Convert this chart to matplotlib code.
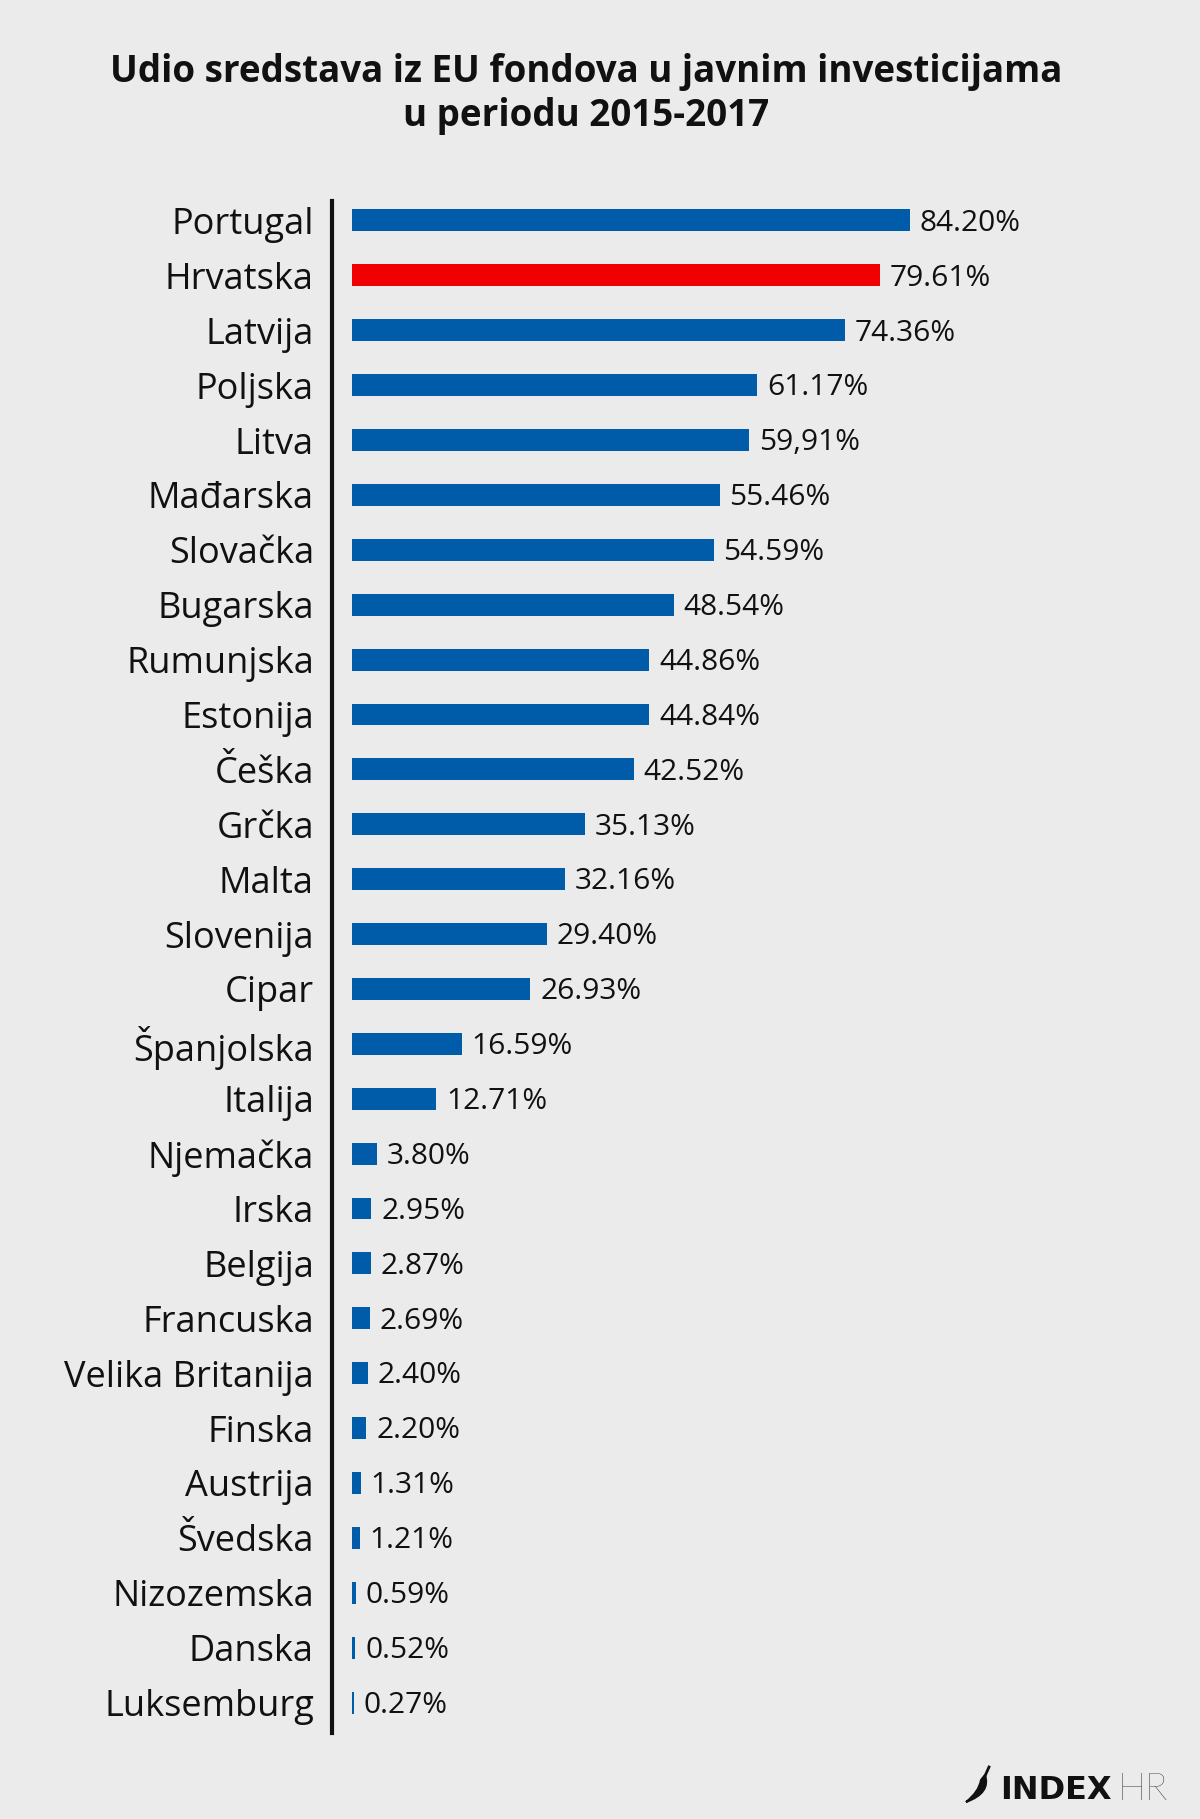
import matplotlib
matplotlib.use("Agg")
import matplotlib.pyplot as plt
from matplotlib.path import Path
from matplotlib.patches import PathPatch
import numpy as np

countries = ["Portugal", "Hrvatska", "Latvija", "Poljska", "Litva", "Mađarska",
             "Slovačka", "Bugarska", "Rumunjska", "Estonija", "Češka", "Grčka",
             "Malta", "Slovenija", "Cipar", "Španjolska", "Italija", "Njemačka",
             "Irska", "Belgija", "Francuska", "Velika Britanija", "Finska",
             "Austrija", "Švedska", "Nizozemska", "Danska", "Luksemburg"]
shares = [84.20, 79.61, 74.36, 61.17, 59.91, 55.46, 54.59, 48.54, 44.86, 44.84,
          42.52, 35.13, 32.16, 29.40, 26.93, 16.59, 12.71, 3.80, 2.95, 2.87,
          2.69, 2.40, 2.20, 1.31, 1.21, 0.59, 0.52, 0.27]
share_labels = ["84.20%", "79.61%", "74.36%", "61.17%", "59,91%", "55.46%",
                "54.59%", "48.54%", "44.86%", "44.84%", "42.52%", "35.13%",
                "32.16%", "29.40%", "26.93%", "16.59%", "12.71%", "3.80%",
                "2.95%", "2.87%", "2.69%", "2.40%", "2.20%", "1.31%", "1.21%",
                "0.59%", "0.52%", "0.27%"]
highlight = "Hrvatska"

plt.rcParams['font.family'] = ['Open Sans', 'DejaVu Sans']

W, H = 1200, 1819
fig = plt.figure(figsize=(W / 100, H / 100), dpi=100)
fig.patch.set_facecolor("#ebebeb")

# axes placed in pixel terms: spine at x=332, ~6.63 px per percent
px_per = 6.63
x0 = -3.0
left_px = 332
right_px = W - 20
ax = fig.add_axes([left_px / W, 1 - 1730 / H, (right_px - left_px) / W, 1537 / H])
ax.set_facecolor("none")
ax.set_xlim(x0, x0 + (right_px - left_px) / px_per)

y = np.arange(len(countries))
colors = ["#f00000" if c == highlight else "#005ba8" for c in countries]
ax.barh(y, shares, height=0.40, color=colors, left=0)
ax.set_ylim(len(countries) - 0.5, -0.5)

for yi, v, lab in zip(y, shares, share_labels):
    ax.annotate(lab, (v, yi), xytext=(7, -2), textcoords="offset points",
                va="center", ha="left", fontsize=21.5, color="#111111")

ax.set_yticks(y)
ax.set_yticklabels(countries, fontsize=26, color="#111111")
ax.tick_params(axis="y", length=0, pad=13)
ax.set_xticks([])
for s in ["top", "right", "bottom"]:
    ax.spines[s].set_visible(False)
ax.spines["left"].set_linewidth(3)
ax.spines["left"].set_color("#111111")
ax.spines["left"].set_bounds(-0.35, len(countries) - 0.45)

fig.text(586 / W, 1 - 72 / H, "Udio sredstava iz EU fondova u javnim investicijama",
         ha="center", va="center", fontsize=26.5, fontweight="bold", color="#111111")
fig.text(586 / W, 1 - 116 / H, "u periodu 2015-2017",
         ha="center", va="center", fontsize=26.5, fontweight="bold", color="#111111")

# logo
fig.text(1000 / W, 1 - 1790 / H, "INDEX", ha="left", va="center", fontsize=23,
         fontweight="bold", color="#111111", family="DejaVu Sans")
fig.text(1118 / W, 1 - 1790 / H, "HR", ha="left", va="center", fontsize=27,
         fontweight="light", color="#111111", family="Lato")
verts = [(985, 1775), (991, 1793), (966, 1802), (966, 1802),
         (979, 1792), (981, 1780), (985, 1775), (985, 1775)]
codes = [Path.MOVETO, Path.CURVE3, Path.CURVE3, Path.LINETO,
         Path.CURVE3, Path.CURVE3, Path.LINETO, Path.CLOSEPOLY]
verts = [(vx / W, 1 - vy / H) for vx, vy in verts]
fig.patches.append(PathPatch(Path(verts, codes), facecolor="#111111",
                             edgecolor="#111111", lw=1.5, transform=fig.transFigure))
fig.add_artist(plt.Line2D([985 / W, 989 / W], [1 - 1776 / H, 1 - 1767 / H],
                          color="#111111", lw=2, transform=fig.transFigure))

fig.savefig("out.png", dpi=100, facecolor=fig.get_facecolor())
